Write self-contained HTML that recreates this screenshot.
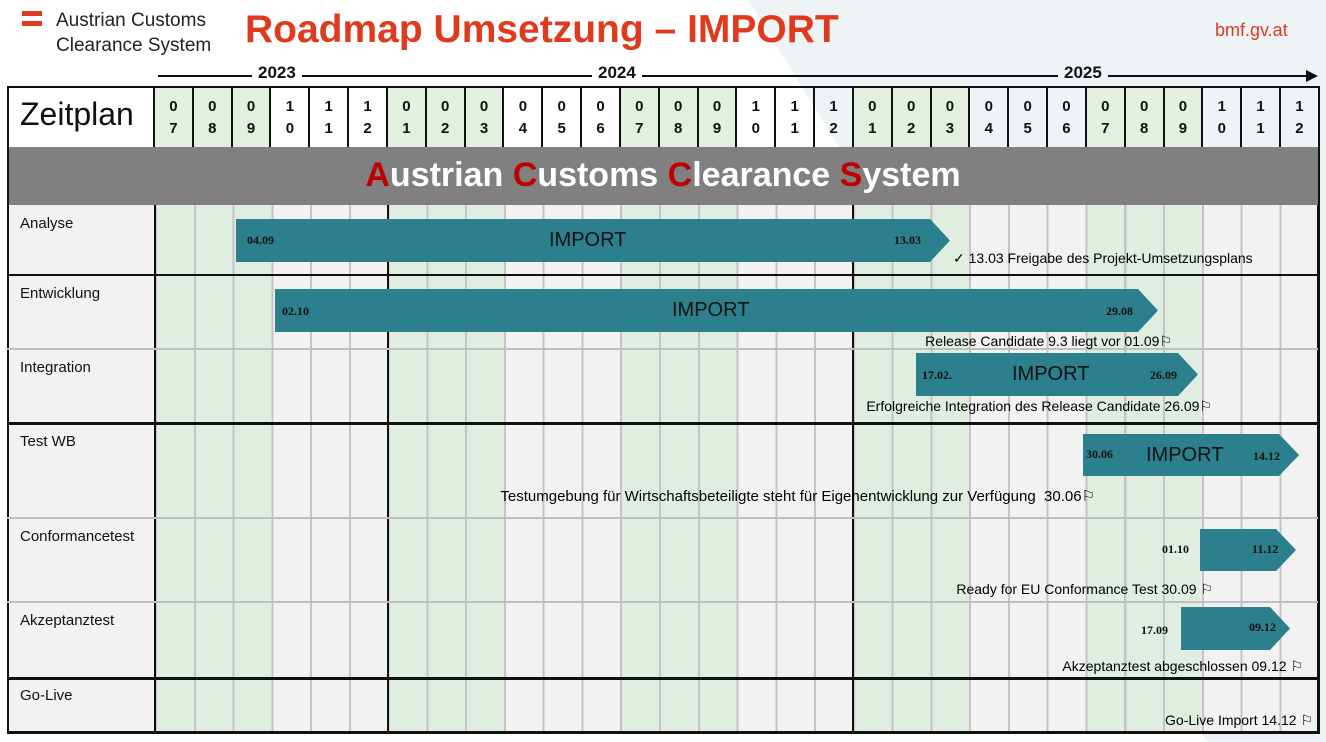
<!DOCTYPE html>
<html><head><meta charset="utf-8"><style>
*{margin:0;padding:0;box-sizing:border-box}
body{width:1326px;height:742px;position:relative;overflow:hidden;background:#fff;font-family:"Liberation Sans",sans-serif;color:#111}
.a{position:absolute}
.bar{position:absolute;background:#2c7f8c}
.d{position:absolute;font-size:12px;font-weight:bold;color:#111;font-family:"Liberation Serif",serif}
.imp{position:absolute;font-size:20px;color:#111}
.note{position:absolute;font-size:14px;color:#000;white-space:nowrap;text-align:right}
.lbl{position:absolute;left:20px;font-size:15px;color:#111}
.hc{flex:1;border-left:2px solid #111;text-align:center;font-size:15px;font-weight:bold;line-height:22px;padding-top:8px}
.g{background:#e2efe1}
.w{background:transparent}
.hl{position:absolute;left:7px;width:1311px;height:2px;background:#bfbfbf}
.hk{position:absolute;left:7px;width:1313px;height:3px;background:#111}
</style></head><body>
<div class="a" style="left:0;top:0;width:1326px;height:742px;background:#eef3f6;clip-path:polygon(748px 0,1326px 0,1326px 742px,1207px 742px)"></div>
<!-- logo -->
<div class="a" style="left:22px;top:11px;width:20px;height:5px;background:#e03a1e"></div>
<div class="a" style="left:22px;top:21px;width:20px;height:5px;background:#e03a1e"></div>
<div class="a" style="left:56px;top:8px;font-size:19px;line-height:25px;color:#222">Austrian Customs<br>Clearance System</div>
<div class="a" style="left:245px;top:8px;font-size:39px;font-weight:bold;color:#e03a1e">Roadmap Umsetzung – IMPORT</div>
<div class="a" style="left:1215px;top:20px;font-size:18px;color:#e03a1e">bmf.gv.at</div>
<!-- timeline -->
<div class="a" style="left:158px;top:75px;width:1152px;height:2px;background:#111"></div>
<div class="a" style="left:1306px;top:70px;width:0;height:0;border-left:12px solid #111;border-top:6px solid transparent;border-bottom:6px solid transparent"></div>
<div class="a" style="left:252px;top:63px;padding:0 6px;background:#fff;font-size:17px;font-weight:bold">2023</div>
<div class="a" style="left:592px;top:63px;padding:0 6px;background:#fff;font-size:17px;font-weight:bold">2024</div>
<div class="a" style="left:1058px;top:63px;padding:0 6px;background:#eef3f6;font-size:17px;font-weight:bold">2025</div>
<!-- header row -->
<div class="a" style="left:7px;top:86px;width:1313px;height:63px;border:2px solid #111;background:transparent"></div>
<div class="a" style="left:9px;top:88px;width:146px;height:59px;background:#fff"></div>
<div class="a" style="left:20px;top:96px;font-size:32px;color:#111">Zeitplan</div>
<div class="a" style="left:153px;top:88px;width:1165px;height:59px;display:flex">
<div class="hc g">0<br>7</div><div class="hc g">0<br>8</div><div class="hc g">0<br>9</div><div class="hc" style="background:#fff">1<br>0</div><div class="hc" style="background:#fff">1<br>1</div><div class="hc" style="background:#fff">1<br>2</div>
<div class="hc g">0<br>1</div><div class="hc g">0<br>2</div><div class="hc g">0<br>3</div><div class="hc" style="background:#fff">0<br>4</div><div class="hc" style="background:#fff">0<br>5</div><div class="hc" style="background:#fff">0<br>6</div>
<div class="hc g">0<br>7</div><div class="hc g">0<br>8</div><div class="hc g">0<br>9</div><div class="hc w">1<br>0</div><div class="hc w">1<br>1</div><div class="hc w">1<br>2</div>
<div class="hc g">0<br>1</div><div class="hc g">0<br>2</div><div class="hc g">0<br>3</div><div class="hc w">0<br>4</div><div class="hc w">0<br>5</div><div class="hc w">0<br>6</div>
<div class="hc g">0<br>7</div><div class="hc g">0<br>8</div><div class="hc g">0<br>9</div><div class="hc w">1<br>0</div><div class="hc w">1<br>1</div><div class="hc w" style="border-right:0">1<br>2</div>
</div>
<!-- banner -->
<div class="a" style="left:7px;top:147px;width:1313px;height:60px;background:#808080;border:2px solid #111;border-top:0"></div>
<div class="a" style="left:0;top:156px;width:1326px;text-align:center;font-size:34px;font-weight:bold;color:#fff"><span style="color:#c00000">A</span>ustrian <span style="color:#c00000">C</span>ustoms <span style="color:#c00000">C</span>learance <span style="color:#c00000">S</span>ystem</div>
<!-- body -->
<div class="a" style="left:7px;top:205px;width:148px;height:527px;background:#f2f2f2"></div>
<div class="a" style="left:155px;top:205px;width:1163px;height:527px;background:repeating-linear-gradient(90deg,#dfeee0 0 116.3px,#f2f2f2 116.3px 232.6px)"></div>
<div class="a" style="left:155px;top:205px;width:1163px;height:527px;background:repeating-linear-gradient(90deg,#c4c4c4 0 2px,transparent 2px 38.77px)"></div>
<div class="a" style="left:7px;top:205px;width:2px;height:529px;background:#111"></div>
<div class="a" style="left:154px;top:205px;width:2px;height:529px;background:#111"></div>
<div class="a" style="left:387px;top:205px;width:2px;height:529px;background:#111"></div>
<div class="a" style="left:852px;top:205px;width:2px;height:529px;background:#111"></div>
<div class="a" style="left:1317px;top:205px;width:3px;height:529px;background:#111"></div>
<div class="hk" style="top:274px;height:2px"></div>
<div class="hl" style="top:348px"></div>
<div class="hk" style="top:422px"></div>
<div class="hl" style="top:517px"></div>
<div class="hl" style="top:601px"></div>
<div class="hk" style="top:677px"></div>
<div class="hk" style="top:731px"></div>
<div class="lbl" style="top:215px">Analyse</div>
<div class="lbl" style="top:285px">Entwicklung</div>
<div class="lbl" style="top:359px">Integration</div>
<div class="lbl" style="top:433px">Test WB</div>
<div class="lbl" style="top:528px">Conformancetest</div>
<div class="lbl" style="top:612px">Akzeptanztest</div>
<div class="lbl" style="top:687px">Go-Live</div>
<!-- bars -->
<div class="bar" style="left:236px;top:219px;width:714px;height:43px;clip-path:polygon(0 0,694px 0,100% 50%,694px 100%,0 100%)"></div>
<div class="d" style="left:247px;top:233px">04.09</div>
<div class="imp" style="left:549px;top:229px">IMPORT</div>
<div class="d" style="left:894px;top:233px">13.03</div>
<div class="note" style="left:953px;top:250px">✓ 13.03 Freigabe des Projekt-Umsetzungsplans</div>

<div class="bar" style="left:275px;top:289px;width:883px;height:43px;clip-path:polygon(0 0,863px 0,100% 50%,863px 100%,0 100%)"></div>
<div class="d" style="left:282px;top:304px">02.10</div>
<div class="imp" style="left:672px;top:299px">IMPORT</div>
<div class="d" style="left:1106px;top:304px">29.08</div>
<div class="note" style="right:154px;top:333px">Release Candidate 9.3 liegt vor 01.09⚐</div>

<div class="bar" style="left:916px;top:353px;width:282px;height:43px;clip-path:polygon(0 0,262px 0,100% 50%,262px 100%,0 100%)"></div>
<div class="d" style="left:922px;top:368px">17.02.</div>
<div class="imp" style="left:1012px;top:363px">IMPORT</div>
<div class="d" style="left:1150px;top:368px">26.09</div>
<div class="note" style="right:114px;top:398px">Erfolgreiche Integration des Release Candidate 26.09⚐</div>

<div class="bar" style="left:1083px;top:434px;width:216px;height:42px;clip-path:polygon(0 0,196px 0,100% 50%,196px 100%,0 100%)"></div>
<div class="d" style="left:1086px;top:447px">30.06</div>
<div class="imp" style="left:1146px;top:444px">IMPORT</div>
<div class="d" style="left:1253px;top:449px">14.12</div>
<div class="note" style="right:231px;top:487px;font-size:15px">Testumgebung für Wirtschaftsbeteiligte steht für Eigenentwicklung zur Verfügung&nbsp; 30.06⚐</div>

<div class="bar" style="left:1200px;top:529px;width:96px;height:42px;clip-path:polygon(0 0,76px 0,100% 50%,76px 100%,0 100%)"></div>
<div class="d" style="left:1162px;top:542px">01.10</div>
<div class="d" style="left:1252px;top:542px">11.12</div>
<div class="note" style="right:113px;top:581px">Ready for EU Conformance Test 30.09 ⚐</div>

<div class="bar" style="left:1181px;top:607px;width:109px;height:43px;clip-path:polygon(0 0,89px 0,100% 50%,89px 100%,0 100%)"></div>
<div class="d" style="left:1141px;top:623px">17.09</div>
<div class="d" style="left:1249px;top:620px">09.12</div>
<div class="note" style="right:23px;top:658px">Akzeptanztest abgeschlossen 09.12 ⚐</div>
<div class="note" style="right:13px;top:712px">Go-Live Import 14.12 ⚐</div>
</body></html>
